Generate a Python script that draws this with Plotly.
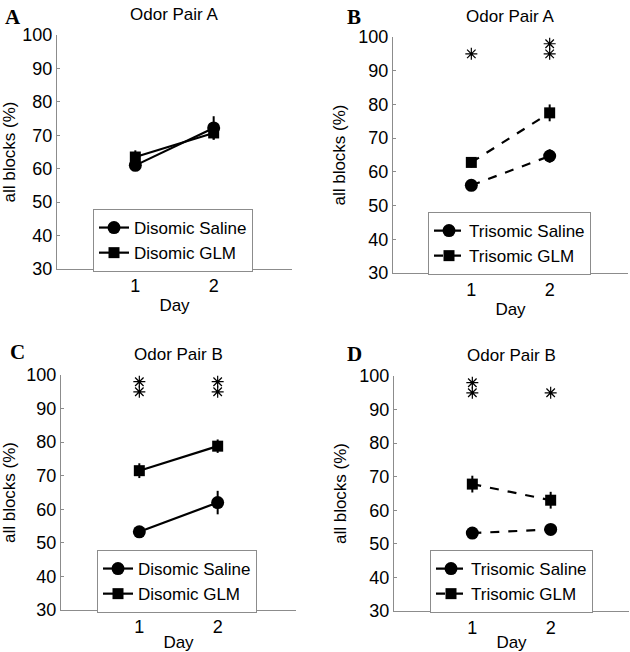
import plotly.graph_objects as go

days = [1, 2]

# Panel A: Odor Pair A, Disomic
a_saline = [61.0, 72.2]
a_saline_err = [1.5, 3.5]
a_glm = [63.5, 70.7]
a_glm_err = [2.0, 2.0]

# Panel B: Odor Pair A, Trisomic
b_saline = [56.0, 64.7]
b_saline_err = [1.2, 2.0]
b_glm = [62.8, 77.5]
b_glm_err = [1.5, 2.5]
b_star_x = [1, 2, 2]
b_star_y = [95, 95, 98]

# Panel C: Odor Pair B, Disomic
c_saline = [53.3, 62.0]
c_saline_err = [1.2, 3.5]
c_glm = [71.5, 78.8]
c_glm_err = [2.2, 2.0]
c_star_x = [1, 1, 2, 2]
c_star_y = [95, 98, 95, 98]

# Panel D: Odor Pair B, Trisomic
d_saline = [53.2, 54.3]
d_saline_err = [1.0, 1.0]
d_glm = [67.8, 63.0]
d_glm_err = [2.5, 2.5]
d_star_x = [1, 1, 2]
d_star_y = [95, 98, 95]

panel_titles = ["Odor Pair A", "Odor Pair A", "Odor Pair B", "Odor Pair B"]
panel_letters = ["A", "B", "C", "D"]
y_ticks = [30, 40, 50, 60, 70, 80, 90, 100]

W, H = 630, 652
FONT = "Liberation Sans, Arial, sans-serif"
GRAY = "#8c8c8c"

# plot areas in pixels (left, right, top, bottom)
areas = [
    (57, 292, 35, 269),
    (393, 628, 37, 273),
    (61, 296, 375, 610),
    (394, 629, 376, 611),
]
legend_pos = [(93, 209), (428, 212), (97, 550), (430, 550)]
letter_pos = [(3, 3), (345, 3), (8, 338), (345, 340)]

fig = go.Figure()

panels = [
    (a_saline, a_saline_err, a_glm, a_glm_err, None, None, "solid", "Disomic"),
    (b_saline, b_saline_err, b_glm, b_glm_err, b_star_x, b_star_y, "dash", "Trisomic"),
    (c_saline, c_saline_err, c_glm, c_glm_err, c_star_x, c_star_y, "solid", "Disomic"),
    (d_saline, d_saline_err, d_glm, d_glm_err, d_star_x, d_star_y, "dash", "Trisomic"),
]

layout = dict(
    width=W, height=H, margin=dict(l=0, r=0, t=0, b=0, autoexpand=False),
    plot_bgcolor="white", paper_bgcolor="white",
    font=dict(family=FONT, size=17, color="black"),
    annotations=[],
)

for i, (sal, sal_e, glm, glm_e, sx, sy, dash, grp) in enumerate(panels):
    n = i + 1
    xa = "x" if n == 1 else f"x{n}"
    ya = "y" if n == 1 else f"y{n}"
    leg = "legend" if n == 1 else f"legend{n}"
    fig.add_trace(go.Scatter(
        x=days, y=sal, xaxis=xa, yaxis=ya, legend=leg,
        name=f"{grp} Saline", mode="lines+markers",
        line=dict(color="black", width=2.2, dash=dash),
        marker=dict(symbol="circle", size=13, color="black"),
        error_y=dict(type="data", array=sal_e, visible=True, color="black", thickness=2, width=0),
    ))
    fig.add_trace(go.Scatter(
        x=days, y=glm, xaxis=xa, yaxis=ya, legend=leg,
        name=f"{grp} GLM", mode="lines+markers",
        line=dict(color="black", width=2.2, dash=dash),
        marker=dict(symbol="square", size=11, color="black"),
        error_y=dict(type="data", array=glm_e, visible=True, color="black", thickness=2, width=0),
    ))
    if sx is not None:
        fig.add_trace(go.Scatter(
            x=sx, y=sy, xaxis=xa, yaxis=ya, showlegend=False, mode="markers",
            marker=dict(symbol="asterisk-open", size=10, color="black",
                        line=dict(color="black", width=1.2)),
        ))

    l, r, t, b = areas[i]
    axkey_x = "xaxis" if n == 1 else f"xaxis{n}"
    axkey_y = "yaxis" if n == 1 else f"yaxis{n}"
    layout[axkey_x] = dict(
        domain=[l / W, r / W], anchor=ya, range=[0, 3], automargin=False,
        tickvals=days, ticktext=["1", "2"],
        ticks="inside", ticklen=3, tickcolor=GRAY, tickwidth=1,
        showline=True, linecolor=GRAY, linewidth=1, showgrid=False, zeroline=False,
        title=dict(text="Day", standoff=4, font=dict(size=17)),
        tickfont=dict(size=18),
    )
    layout[axkey_y] = dict(
        domain=[1 - b / H, 1 - t / H], anchor=xa, range=[30, 100], automargin=False,
        tickvals=y_ticks,
        ticks="inside", ticklen=3, tickcolor=GRAY, tickwidth=1,
        showline=True, linecolor=GRAY, linewidth=1, showgrid=False, zeroline=False,
        title=dict(text="all blocks (%)", standoff=8, font=dict(size=17)),
        tickfont=dict(size=18),
    )
    lx, ly = legend_pos[i]
    layout[leg] = dict(
        x=lx / W, y=1 - ly / H, xanchor="left", yanchor="top",
        xref="paper", yref="paper",
        bordercolor=GRAY, borderwidth=1, bgcolor="white",
        font=dict(size=17), tracegroupgap=0, itemwidth=30,
    )
    layout["annotations"].append(dict(
        text=panel_titles[i], x=(l + r) / 2 / W, y=1 - (t - 9) / H,
        xref="paper", yref="paper", xanchor="center", yanchor="bottom",
        showarrow=False, font=dict(size=17),
    ))
    px, py = letter_pos[i]
    layout["annotations"].append(dict(
        text=f"<b>{panel_letters[i]}</b>", x=px / W, y=1 - py / H,
        xref="paper", yref="paper", xanchor="left", yanchor="top",
        showarrow=False, font=dict(size=21, family="Liberation Serif, Times New Roman, serif"),
    ))

fig.update_layout(**layout)
fig.write_html(
    "out.html",
    config={"displayModeBar": False},
    post_script="document.body.style.margin='0px'; document.body.style.overflow='hidden';",
)
